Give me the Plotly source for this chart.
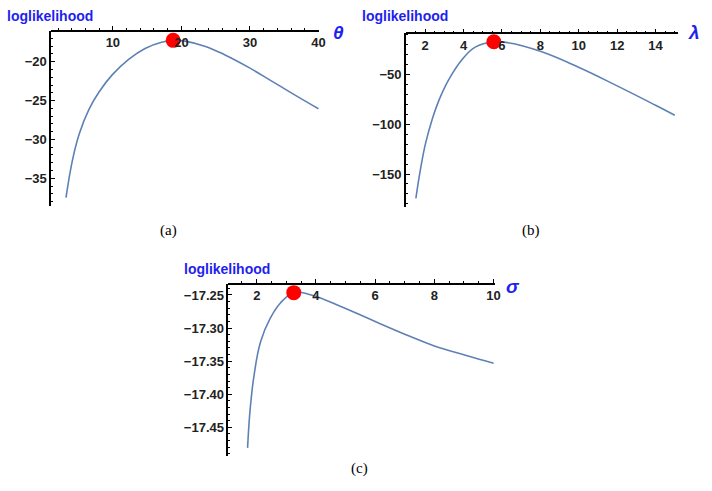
import plotly.graph_objects as go

W, H = 712, 491

# ---- data ----
theta = [3.16, 4.12, 5.09, 6.53, 7.98, 9.9, 12.3, 14.7, 17.1, 18.8, 20.5, 23.4, 26.3, 29.75, 33.0, 36.4, 40.0]
ll_theta = [-37.5, -32.6, -29.3, -26.1, -23.9, -21.7, -19.7, -18.3, -17.5, -17.25, -17.35, -18.0, -19.1, -20.7, -22.4, -24.2, -26.05]
mle_theta = [18.8]
mle_ll_theta = [-17.25]

lam = [1.52, 1.78, 2.04, 2.38, 2.72, 3.24, 3.93, 4.61, 5.58, 6.33, 8.0, 9.99, 12.0, 14.0, 15.0]
ll_lam = [-174.4, -143, -118, -94.5, -76, -55, -35, -22.6, -17.25, -18.2, -26.8, -42.8, -61.5, -81, -91]
mle_lam = [5.58]
mle_ll_lam = [-17.25]

sigma = [1.69, 1.78, 1.91, 2.13, 2.47, 2.80, 3.25, 3.81, 4.92, 6.0, 7.15, 8.0, 9.05, 10.0]
ll_sigma = [-17.481, -17.421, -17.371, -17.3205, -17.284, -17.262, -17.2465, -17.2495, -17.269, -17.29, -17.312, -17.327, -17.341, -17.353]
mle_sigma = [3.25]
mle_ll_sigma = [-17.2465]

LINE = "#5E81B5"
BLUE = "#1f1ff0"
TICKFONT = dict(family="Liberation Sans, Arial, sans-serif", size=13, color="#222222", weight="bold")

fig = go.Figure()

panels = [
    (theta, ll_theta, mle_theta, mle_ll_theta, [1.0, 40.1], [-38.6, -16.06], (51.7, 322.3, 31.1, 206.2), 10, 2, 5, 1, None),
    (lam, ll_lam, mle_lam, mle_ll_lam, [1.0, 15.15], [-182.8, -8.7], (409.9, 684.4, 33.3, 206.7), 2, 0.5, 50, 10, None),
    (sigma, ll_sigma, mle_sigma, mle_ll_sigma, [1.04, 10.05], [-17.4928, -17.2334], (230.6, 500.0, 284.0, 455.7), 2, 0.5, 0.05, 0.01, ".2f"),
]

for i, (xs, ys, mx, my, xr, yr, box, xd, xm, yd, ym, yfmt) in enumerate(panels):
    n = "" if i == 0 else str(i + 1)
    l, r, t, b = box
    xdom = [l / W, r / W]
    ydom = [(H - b) / H, (H - t) / H]
    fig.add_trace(go.Scatter(x=xs, y=ys, mode="lines", line=dict(color=LINE, width=1.6, shape="spline", smoothing=1.2),
                             xaxis="x" + n, yaxis="y" + n, showlegend=False, hoverinfo="skip"))
    fig.add_trace(go.Scatter(x=mx, y=my, mode="markers", marker=dict(color="#ff0000", size=15, line=dict(width=0)),
                             xaxis="x" + n, yaxis="y" + n, showlegend=False, cliponaxis=False))
    xa = dict(domain=xdom, range=xr, anchor="free", position=ydom[1], side="bottom",
              showline=True, linecolor="black", linewidth=1.5, ticks="inside", ticklen=4, tickwidth=1.2,
              tickcolor="black", dtick=xd, tick0=0, showgrid=False, zeroline=False, tickfont=TICKFONT,
              minor=dict(ticks="inside", ticklen=2, tickcolor="black", dtick=xm, tick0=0, showgrid=False))
    ya = dict(domain=ydom, range=yr, anchor="x" + n, side="left",
              showline=True, linecolor="black", linewidth=1.5, ticks="inside", ticklen=4, tickwidth=1.2,
              tickcolor="black", dtick=yd, tick0=0, showgrid=False, zeroline=False, tickfont=TICKFONT,
              minor=dict(ticks="inside", ticklen=2, tickcolor="black", dtick=ym, tick0=0, showgrid=False))
    if yfmt:
        ya["tickformat"] = yfmt
    fig.layout["xaxis" + n] = xa
    fig.layout["yaxis" + n] = ya

ann = []
for (cx, cy) in [(50, 16), (409, 16), (229.5, 268.5)]:
    ann.append(dict(x=cx / W, y=1 - cy / H, xref="paper", yref="paper", text="<b>loglikelihood</b>",
                    showarrow=False, xanchor="center", yanchor="middle",
                    font=dict(family="Liberation Sans, Arial, sans-serif", size=14, color=BLUE)))
for (cx, cy, s) in [(342, 33, "θ"), (701, 33, "λ"), (518, 286, "σ")]:
    ann.append(dict(x=cx / W, y=1 - cy / H, xref="paper", yref="paper", text="<b><i>" + s + "</i></b>",
                    showarrow=False, xanchor="center", yanchor="middle",
                    font=dict(family="Liberation Sans, Arial, sans-serif", size=19, color=BLUE)))
for (cx, cy, s) in [(170, 230, "(a)"), (536, 230, "(b)"), (363, 468, "(c)")]:
    ann.append(dict(x=cx / W, y=1 - cy / H, xref="paper", yref="paper", text=s,
                    showarrow=False, xanchor="center", yanchor="middle",
                    font=dict(family="Liberation Serif, Times New Roman, serif", size=15, color="black")))

fig.update_layout(width=W, height=H, margin=dict(l=0, r=0, t=0, b=0),
                  paper_bgcolor="white", plot_bgcolor="white", annotations=ann)

fig.write_html("out.html")
